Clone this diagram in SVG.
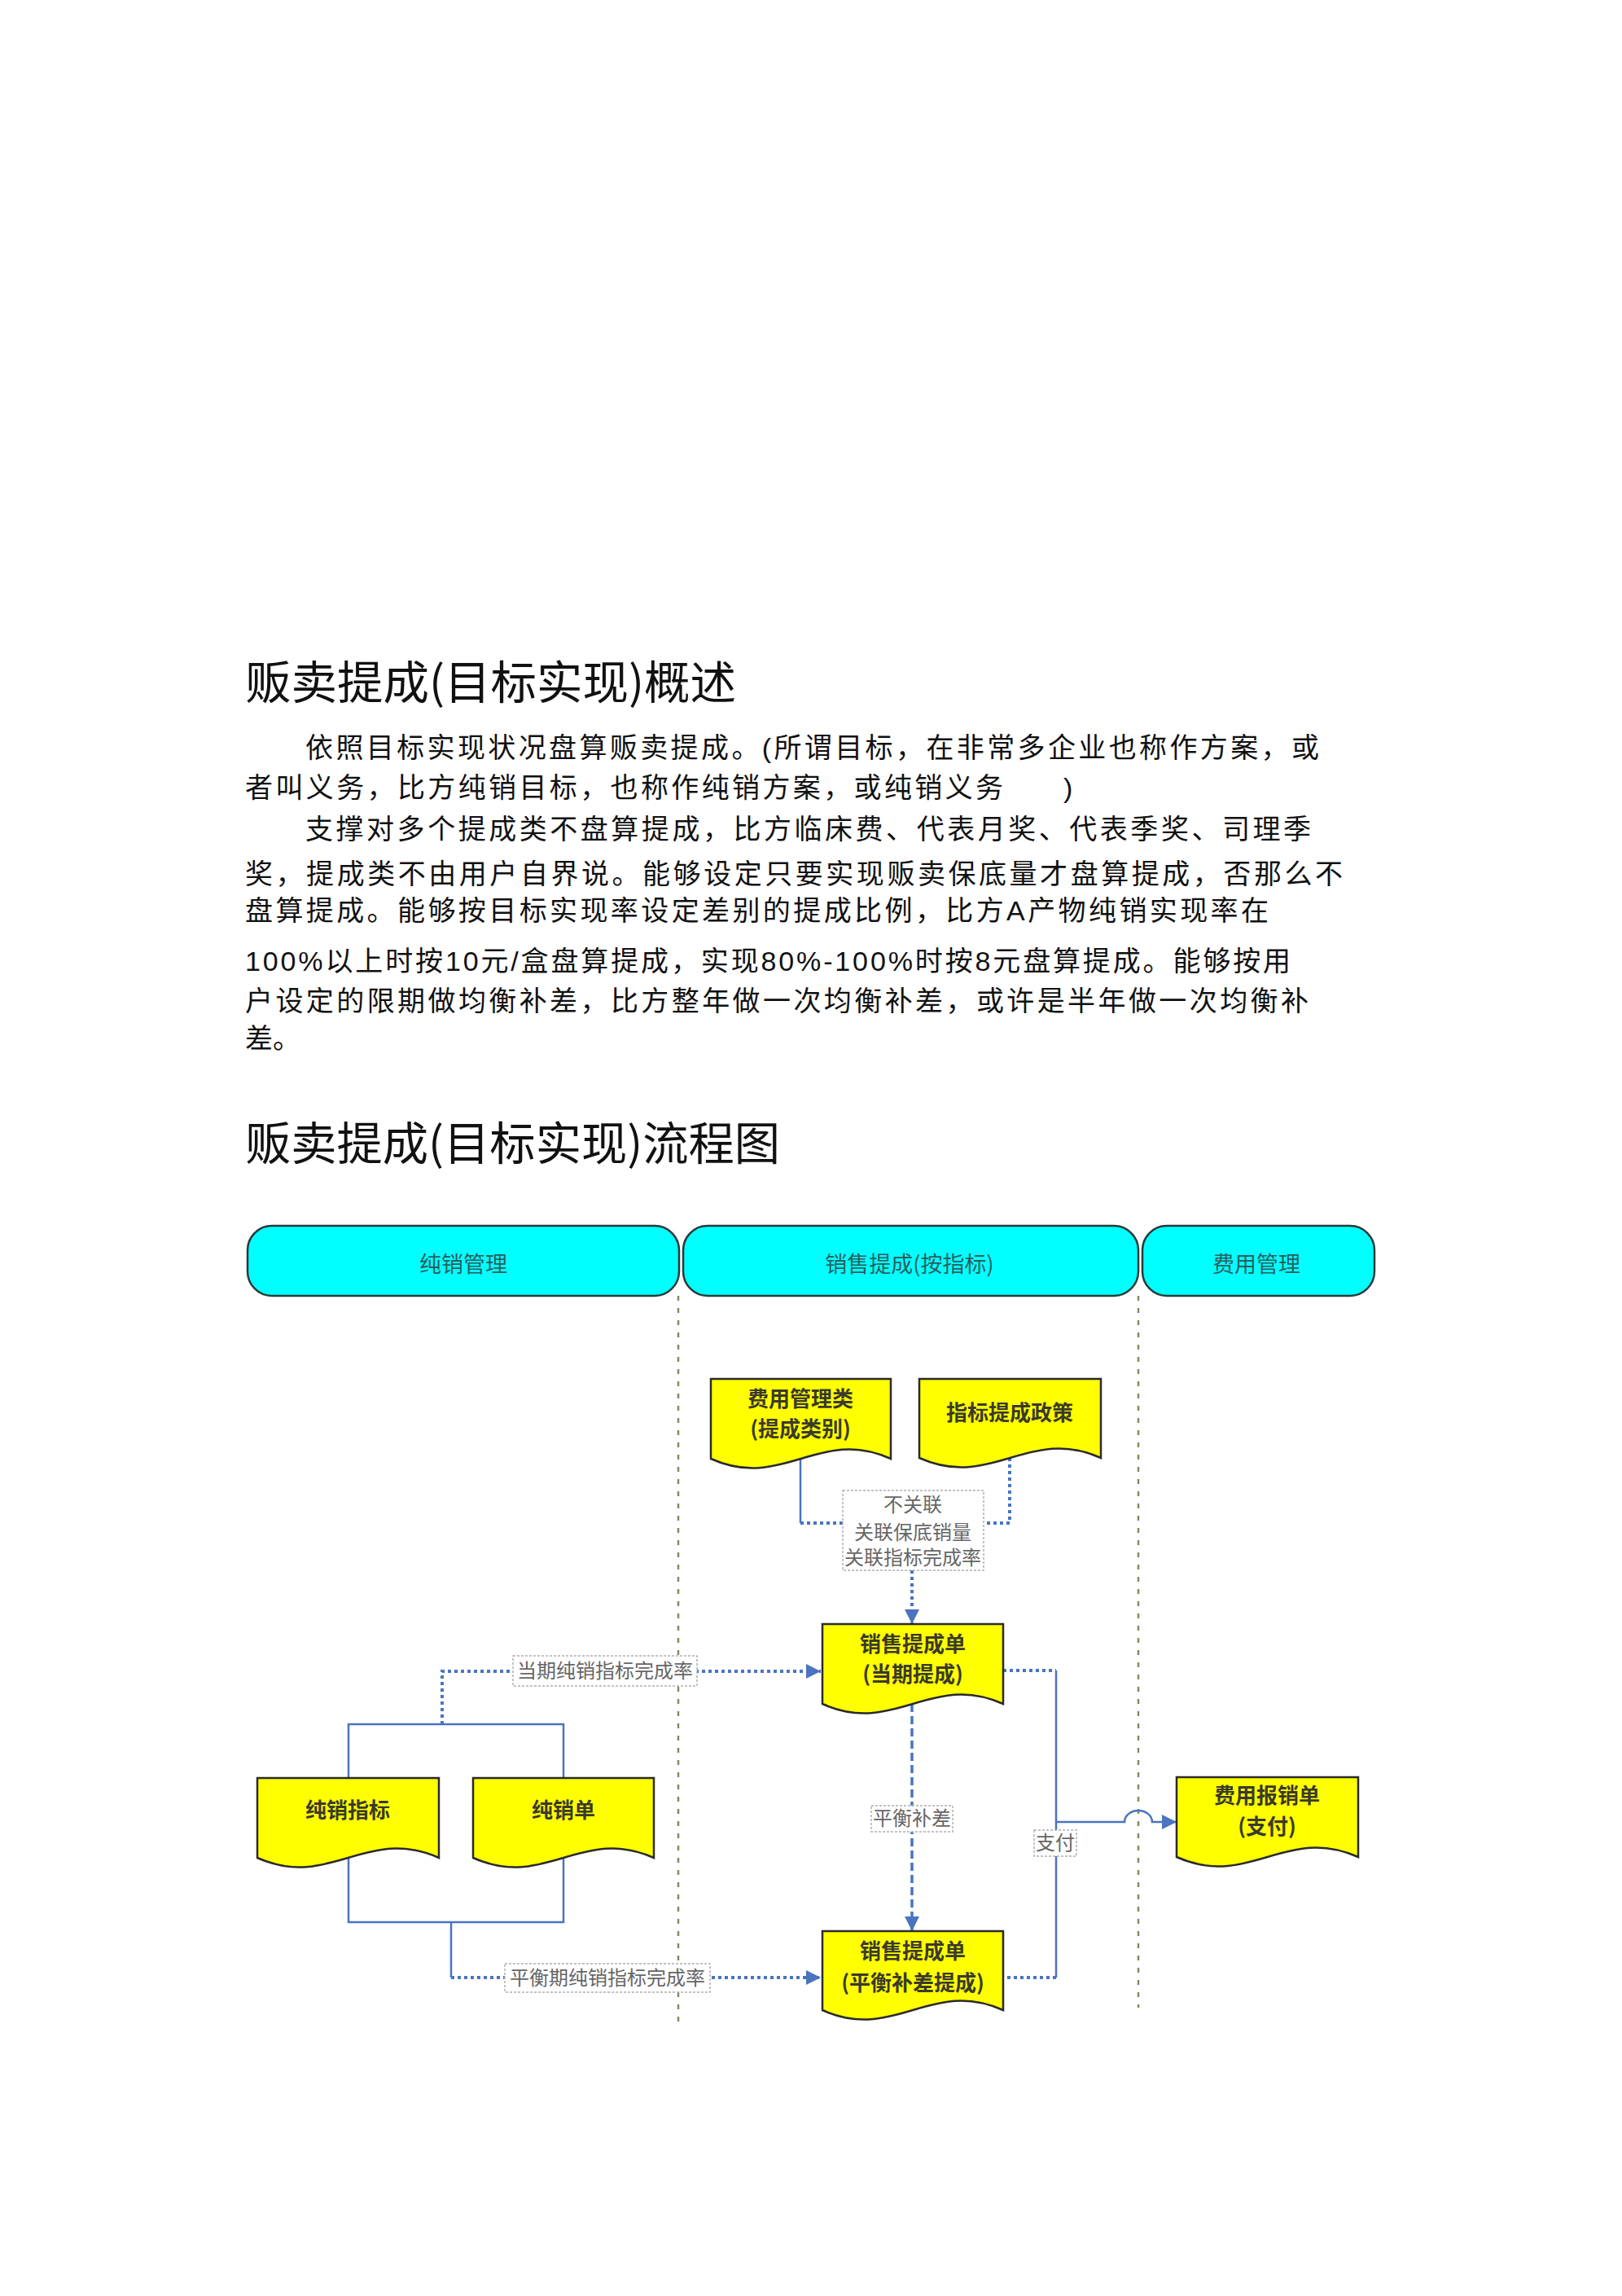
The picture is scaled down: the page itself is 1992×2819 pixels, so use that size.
<svg xmlns="http://www.w3.org/2000/svg" width="1992" height="2819" viewBox="0 0 1992 2819">
<style>
.title{font-family:"Noto Sans CJK SC","Liberation Sans",sans-serif;font-size:56px;fill:#111;}
.body{font-family:"Liberation Sans","Noto Sans CJK SC",sans-serif;font-size:34px;fill:#111;}
.lane{fill:#00ffff;stroke:#2a3a3a;stroke-width:2.5;}
.lanetxt{font-family:"Noto Sans CJK SC",sans-serif;font-size:27px;fill:#2a5e5e;text-anchor:middle;}
.doc{fill:#ffff00;stroke:#2a2a2a;stroke-width:2.5;}
.doctxt{font-family:"Noto Sans CJK SC",sans-serif;font-size:26px;font-weight:bold;fill:#3a3a2a;text-anchor:middle;}
.lbl{fill:#ffffff;stroke:#b0b0b0;stroke-width:1.5;stroke-dasharray:3 2;}
.lbltxt{font-family:"Noto Sans CJK SC",sans-serif;font-size:24px;fill:#666;text-anchor:middle;}
.div{fill:none;stroke:#8a8a5c;stroke-width:2.5;stroke-dasharray:6 9;}
.solid{fill:none;stroke:#4a74c0;stroke-width:2.5;}
.dot{fill:none;stroke:#4a74c0;stroke-width:4;stroke-dasharray:4 4;}
.dash{fill:none;stroke:#4a74c0;stroke-width:3.5;stroke-dasharray:10 5;}
</style>
<defs>
<marker id="arr" viewBox="0 0 10 10" refX="10" refY="5" markerUnits="userSpaceOnUse" markerWidth="18" markerHeight="18" orient="auto">
<path d="M0,0 L10,5 L0,10 Z" fill="#4a74c0"/>
</marker>
</defs>
<rect width="1992" height="2819" fill="#ffffff"/>

<g id="text">
<text class="title" x="301" y="858" textLength="603" lengthAdjust="spacingAndGlyphs">贩卖提成(目标实现)概述</text>
<text class="body" x="375" y="930" textLength="1245" lengthAdjust="spacing">依照目标实现状况盘算贩卖提成。(所谓目标，在非常多企业也称作方案，或</text>
<text class="body" x="301" y="979" textLength="931" lengthAdjust="spacing">者叫义务，比方纯销目标，也称作纯销方案，或纯销义务</text>
<text class="body" x="1306" y="979">)</text>
<text class="body" x="375" y="1030" textLength="1235" lengthAdjust="spacing">支撑对多个提成类不盘算提成，比方临床费、代表月奖、代表季奖、司理季</text>
<text class="body" x="301" y="1085" textLength="1348" lengthAdjust="spacing">奖，提成类不由用户自界说。能够设定只要实现贩卖保底量才盘算提成，否那么不</text>
<text class="body" x="301" y="1130" textLength="1257" lengthAdjust="spacing">盘算提成。能够按目标实现率设定差别的提成比例，比方A产物纯销实现率在</text>
<text class="body" x="301" y="1192" textLength="1284" lengthAdjust="spacing">100%以上时按10元/盒盘算提成，实现80%-100%时按8元盘算提成。能够按用</text>
<text class="body" x="301" y="1241" textLength="1306" lengthAdjust="spacing">户设定的限期做均衡补差，比方整年做一次均衡补差，或许是半年做一次均衡补</text>
<text class="body" x="301" y="1287">差。</text>
<text class="title" x="301" y="1424" textLength="657" lengthAdjust="spacingAndGlyphs">贩卖提成(目标实现)流程图</text>
</g>

<g id="lanes">
<g id="lane-chunxiao">
<rect class="lane" x="304" y="1505" width="530" height="86" rx="30" ry="30"/>
<text class="lanetxt" x="569" y="1562">纯销管理</text>
</g>
<g id="lane-tichen">
<rect class="lane" x="839" y="1505" width="559" height="86" rx="30" ry="30"/>
<text class="lanetxt" x="1117" y="1562">销售提成(按指标)</text>
</g>
<g id="lane-feiyong">
<rect class="lane" x="1403" y="1505" width="285" height="86" rx="30" ry="30"/>
<text class="lanetxt" x="1543" y="1562">费用管理</text>
</g>
<path class="div" d="M833,1591 V2482"/>
<path class="div" d="M1398,1591 V2465"/>
</g>

<g id="connectors">
<path class="solid" d="M983,1791 V1870"/>
<path class="dot" d="M983,1870 H1035"/>
<path class="dot" d="M1240,1790 V1870 H1208"/>
<path class="dot" d="M1120,1928 V1994" marker-end="url(#arr)"/>
<path class="solid" d="M428,2183 V2117 H692 V2183"/>
<path class="dot" d="M543,2117 V2052 H1008" marker-end="url(#arr)"/>
<path class="solid" d="M428,2281 V2360 H692 V2281"/>
<path class="solid" d="M554,2360 V2428"/>
<path class="dot" d="M554,2428 H1008" marker-end="url(#arr)"/>
<path class="dash" d="M1120,2092 V2371" marker-end="url(#arr)"/>
<path class="dot" d="M1232,2051 H1297"/>
<path class="solid" d="M1297,2051 V2428"/>
<path class="dot" d="M1297,2428 H1232"/>
<path class="solid" d="M1297,2237 H1381 A17,14 0 0 1 1415,2237 H1445" marker-end="url(#arr)"/>
</g>

<g id="labels">
<g id="lbl-guanlian">
<rect class="lbl" x="1035" y="1830" width="173" height="98"/>
<text class="lbltxt" x="1121" y="1856">不关联</text>
<text class="lbltxt" x="1121" y="1890">关联保底销量</text>
<text class="lbltxt" x="1121" y="1921">关联指标完成率</text>
</g>
<g id="lbl-dangqi">
<rect class="lbl" x="630" y="2033" width="226" height="37"/>
<text class="lbltxt" x="743" y="2060">当期纯销指标完成率</text>
</g>
<g id="lbl-pinghengqi">
<rect class="lbl" x="620" y="2411" width="252" height="35"/>
<text class="lbltxt" x="746" y="2437">平衡期纯销指标完成率</text>
</g>
<g id="lbl-pingheng">
<rect class="lbl" x="1070" y="2217" width="100" height="32"/>
<text class="lbltxt" x="1120" y="2241">平衡补差</text>
</g>
<g id="lbl-zhifu">
<rect class="lbl" x="1270" y="2247" width="52" height="32"/>
<text class="lbltxt" x="1296" y="2271">支付</text>
</g>
</g>

<g id="node-feiyongleibie">
<path class="doc" d="M873,1693 H1094 V1791 C1005.6,1751 961.4,1831 873,1791 Z"/>
<text class="doctxt" x="983" y="1727">费用管理类</text>
<text class="doctxt" x="983" y="1764">(提成类别)</text>
</g>
<g id="node-zhengce">
<path class="doc" d="M1129,1693 H1352 V1790 C1262.8,1750 1218.2,1830 1129,1790 Z"/>
<text class="doctxt" x="1240" y="1744">指标提成政策</text>
</g>
<g id="node-dangqi">
<path class="doc" d="M1010,1994 H1232 V2092 C1143.2,2052 1098.8,2132 1010,2092 Z"/>
<text class="doctxt" x="1121" y="2028">销售提成单</text>
<text class="doctxt" x="1121" y="2065">(当期提成)</text>
</g>
<g id="node-pingheng">
<path class="doc" d="M1010,2371 H1232 V2468 C1143.2,2428 1098.8,2508 1010,2468 Z"/>
<text class="doctxt" x="1121" y="2405">销售提成单</text>
<text class="doctxt" x="1121" y="2444">(平衡补差提成)</text>
</g>
<g id="node-chunxiaozhibiao">
<path class="doc" d="M316,2183 H539 V2281 C449.8,2241 405.2,2321 316,2281 Z"/>
<text class="doctxt" x="427" y="2232">纯销指标</text>
</g>
<g id="node-chunxiaodan">
<path class="doc" d="M581,2183 H803 V2281 C714.2,2241 669.8,2321 581,2281 Z"/>
<text class="doctxt" x="692" y="2232">纯销单</text>
</g>
<g id="node-baoxiao">
<path class="doc" d="M1445,2182 H1668 V2280 C1578.8,2240 1534.2,2320 1445,2280 Z"/>
<text class="doctxt" x="1556" y="2214">费用报销单</text>
<text class="doctxt" x="1556" y="2252">(支付)</text>
</g>
</svg>
